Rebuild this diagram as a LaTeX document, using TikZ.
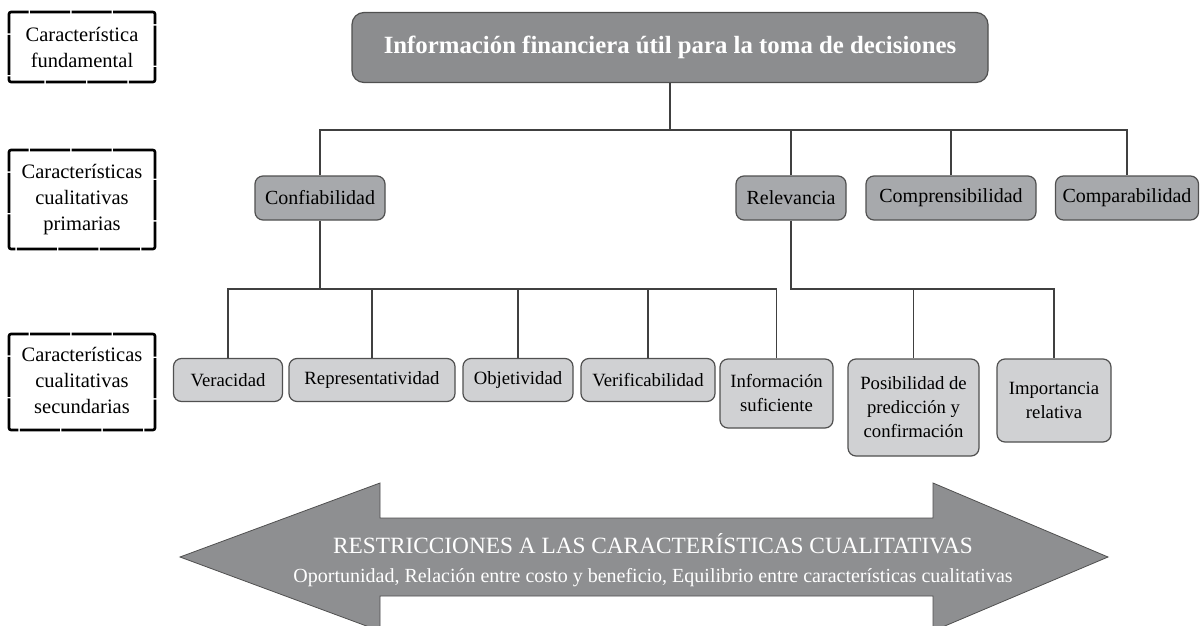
\documentclass[tikz,border=0pt]{standalone}
\usepackage{fontspec}
\setmainfont{Liberation Serif}
\definecolor{linec}{HTML}{404040}
\definecolor{bordc}{HTML}{505050}
\definecolor{topf}{HTML}{8C8D8F}
\definecolor{midf}{HTML}{A7A9AC}
\definecolor{botf}{HTML}{D0D1D3}
\definecolor{arrf}{HTML}{8E8F91}
\definecolor{arrd}{HTML}{505050}
\begin{document}
\begin{tikzpicture}[x=1pt,y=-1pt,
  conn/.style={draw=linec, line width=1.5pt},
  lbl/.style={draw=black, line width=2.6pt, dash pattern=on 40pt off 1.5pt, rounded corners=2pt, align=center, font=\fontsize{20.5}{26}\selectfont, inner sep=0pt, minimum width=146pt},
  topbox/.style={draw=bordc, fill=topf, rounded corners=12pt, line width=1.2pt, text=white, font=\bfseries\fontsize{24.8}{30}\selectfont, inner sep=0pt},
  midbox/.style={draw=bordc, fill=midf, rounded corners=8pt, line width=1.2pt, font=\fontsize{20}{26}\selectfont, inner sep=0pt, minimum height=44pt},
  botbox/.style={draw=bordc, fill=botf, rounded corners=8pt, line width=1.2pt, font=\fontsize{18.7}{24}\selectfont, align=center, inner sep=0pt},
  arrtext/.style={text=white, anchor=base, inner sep=0pt}
]
\clip (0,0) rectangle (1202,626);
\fill[white] (0,0) rectangle (1202,626);

% left labels
\node[lbl, minimum height=70pt] (l1) at (82,47) {Característica\\fundamental};
\node[lbl, minimum height=99pt] (l2) at (82,199.5) {Características\\cualitativas\\primarias};
\node[lbl, minimum height=96pt] (l3) at (82,382) {\raisebox{5pt}{\begin{tabular}{@{}c@{}}Características\\cualitativas\\secundarias\end{tabular}}};

% top
\node[topbox, minimum width=636pt, minimum height=70pt] (top) at (670,47.5) {Información financiera útil para la toma de decisiones};

% middle row
\node[midbox, minimum width=130pt] (conf) at (320,198) {Confiabilidad};
\node[midbox, minimum width=110pt] (rel) at (791,198) {Relevancia};
\node[midbox, minimum width=170pt] (comp) at (951,198) {Comprensibilidad};
\node[midbox, minimum width=143pt] (compa) at (1127,198) {Comparabilidad};

% bottom row
\node[botbox, minimum width=109pt, minimum height=43pt] (ver) at (228,380) {Veracidad};
\node[botbox, minimum width=166pt, minimum height=43pt] (rep) at (372,380) {Representatividad};
\node[botbox, minimum width=110pt, minimum height=43pt] (obj) at (518,380) {Objetividad};
\node[botbox, minimum width=134pt, minimum height=43pt] (verif) at (648,380) {Verificabilidad};
\node[botbox, minimum width=113pt, minimum height=69pt] (info) at (776.5,393.5) {Información\\suficiente};
\node[botbox, minimum width=131pt, minimum height=97pt] (pos) at (913.5,407.5) {Posibilidad de\\predicción y\\confirmación};
\node[botbox, minimum width=114pt, minimum height=83pt] (imp) at (1054,400.5) {Importancia\\relativa};

% connectors level 1
\coordinate (h0) at (670,130);
\draw[conn] (top.south) -- (top.south |- h0);
\draw[conn] (conf.north) |- (compa.north |- h0) -- (compa.north);
\draw[conn] (rel.north) -- (rel.north |- h0);
\draw[conn] (comp.north) -- (comp.north |- h0);

% connectors level 2
\coordinate (h1) at (0,289);
\draw[conn] (conf.south) -- (conf.south |- h1);
\draw[conn] (ver.north) |- (info.north |- h1) -- (info.north);
\draw[conn] (rep.north) -- (rep.north |- h1);
\draw[conn] (obj.north) -- (obj.north |- h1);
\draw[conn] (verif.north) -- (verif.north |- h1);
\draw[conn] (rel.south) |- (imp.north |- h1) -- (imp.north);
\draw[conn] (pos.north) -- (pos.north |- h1);

% double arrow
\path[draw=arrd, fill=arrf, line width=0.8pt] (180,557) -- (380,483) -- (380,518) -- (933,518) -- (933,483) -- (1108,557) -- (933,631) -- (933,596) -- (380,596) -- (380,631) -- cycle;
\node[arrtext, font=\fontsize{23.3}{28}\selectfont] (r1) at (653,553) {RESTRICCIONES A LAS CARACTERÍSTICAS CUALITATIVAS};
\node[arrtext, font=\fontsize{20}{24}\selectfont] (r2) at (653,582) {Oportunidad, Relación entre costo y beneficio, Equilibrio entre características cualitativas};
\end{tikzpicture}
\end{document}
